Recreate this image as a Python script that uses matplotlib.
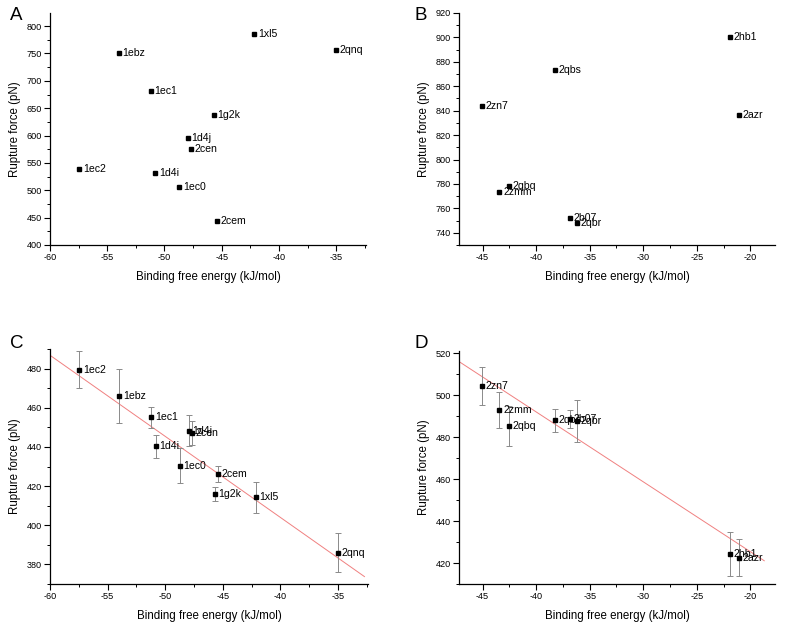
import numpy as np
import matplotlib
matplotlib.use('Agg')
import matplotlib.pyplot as plt
from matplotlib.ticker import MultipleLocator

plt.rcParams['font.family'] = ['Liberation Sans', 'DejaVu Sans']
plt.rcParams['axes.unicode_minus'] = False

# panel A / C : group 1
names1 = ['1ec2', '1ebz', '1ec1', '1d4i', '1d4j', '2cen', '1ec0', '2cem', '1g2k', '1xl5', '2qnq']
energy1 = [-57.45, -54.0, -51.2, -50.8, -47.97, -47.65, -48.72, -45.45, -45.7, -42.15, -35.0]
force_a = [539, 750.6, 681.7, 531, 595, 575, 506, 443.3, 637.8, 786, 756]
force_c = [479.5, 466.1, 455.2, 440.4, 448.3, 447.1, 430.5, 426.2, 416.0, 414.2, 386.0]
err_c = [9.3, 13.8, 5.3, 5.9, 8.0, 6.0, 8.7, 4.0, 3.6, 7.7, 10.0]
fit_c = [-4.14, 238.4]   # slope, intercept as drawn

# panel B / D : group 2
names2 = ['2zn7', '2zmm', '2qbq', '2qbs', '2b07', '2qbr', '2hb1', '2azr']
energy2 = [-45.05, -43.42, -42.5, -38.25, -36.8, -36.22, -21.93, -21.06]
force_b = [843.6, 773, 778.5, 873.4, 752, 748, 900.4, 836.3]
force_d = [504.5, 493.1, 485.3, 488.0, 488.6, 487.5, 424.4, 422.5]
err_d = [9.0, 8.6, 9.5, 5.5, 4.5, 10.0, 10.5, 8.9]
fit_d = [-3.33, 358.8]

fig = plt.figure(figsize=(7.85, 6.24), dpi=100)

axA = fig.add_axes([0.0637, 0.6074, 0.4025, 0.3718])
axB = fig.add_axes([0.5847, 0.6074, 0.4025, 0.3718])
axC = fig.add_axes([0.0637, 0.0641, 0.4050, 0.3766])
axD = fig.add_axes([0.5847, 0.0641, 0.4025, 0.3734])


def style(ax, xlim, ylim, xmaj, ymaj):
    ax.set_xlim(*xlim)
    ax.set_ylim(*ylim)
    ax.xaxis.set_major_locator(MultipleLocator(xmaj))
    ax.xaxis.set_minor_locator(MultipleLocator(xmaj / 2))
    ax.yaxis.set_major_locator(MultipleLocator(ymaj))
    ax.yaxis.set_minor_locator(MultipleLocator(ymaj / 2))
    ax.spines['top'].set_visible(False)
    ax.spines['right'].set_visible(False)
    for s in ['left', 'bottom']:
        ax.spines[s].set_linewidth(0.9)
    ax.tick_params(which='major', direction='out', length=4, width=0.8, labelsize=6.6, pad=2)
    ax.tick_params(which='minor', direction='out', length=2, width=0.7)
    ax.set_xlabel('Binding free energy (kJ/mol)', fontsize=8.3, labelpad=6)
    ax.set_ylabel('Rupture force (pN)', fontsize=8.3, labelpad=4)


def points(ax, x, y, names, err=None):
    if err is not None:
        ax.errorbar(x, y, yerr=err, fmt='none', ecolor='#8a8a8a', elinewidth=0.7,
                    capsize=2.2, capthick=0.7, zorder=2)
    ax.plot(x, y, 's', color='black', markersize=3.4, zorder=3)
    for xi, yi, n in zip(x, y, names):
        ax.annotate(n, (xi, yi), xytext=(2.6, 0), textcoords='offset points',
                    va='center', ha='left', fontsize=7.6, zorder=4)


def fitline(ax, coef, x0, x1):
    xs = np.array([x0, x1])
    ax.plot(xs, coef[0] * xs + coef[1], color='#f08080', lw=0.7, zorder=1)


points(axA, energy1, force_a, names1)
style(axA, (-60, -32.4), (400, 824), 5, 50)

points(axB, energy2, force_b, names2)
style(axB, (-47.2, -17.7), (730, 920), 5, 20)

fitline(axC, fit_c, -60, -32.7)
points(axC, energy1, force_c, names1, err_c)
style(axC, (-60, -32.4), (370, 490), 5, 20)

fitline(axD, fit_d, -47.2, -18.7)
points(axD, energy2, force_d, names2, err_d)
style(axD, (-47.2, -17.7), (410, 521), 5, 20)

for lab, (x, y) in zip('ABCD', [(0.013, 0.975), (0.528, 0.975), (0.013, 0.45), (0.528, 0.45)]):
    fig.text(x, y, lab, fontsize=13.5, ha='left', va='center')

fig.savefig('out.png', dpi=100)
